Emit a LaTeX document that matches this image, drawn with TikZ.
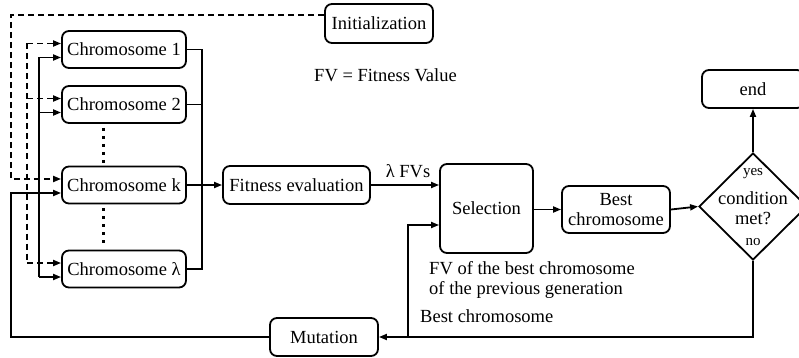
\documentclass[tikz,border=0pt]{standalone}
\usepackage{fontspec}
\setmainfont{Liberation Serif}
\newfontfamily\tmsfont{Liberation Serif}
\usetikzlibrary{arrows.meta,shapes.geometric,calc}
\begin{document}
\begin{tikzpicture}[x=1pt,y=-1pt,
  line width=1.8pt,
  txt/.style={font=\tmsfont\fontsize{18.5}{20.5}\selectfont},
  small/.style={font=\tmsfont\fontsize{15}{17}\selectfont},
  box/.style={draw,rounded corners=7pt,inner sep=0pt,txt,align=center},
  chrom/.style={box,minimum width=124pt,minimum height=37pt},
  arr/.style={-{Triangle[length=8pt,width=6pt]}},
  dsh/.style={dash pattern=on 6pt off 4pt},
  dots/.style={line width=3pt,dash pattern=on 3pt off 5pt},
]
\useasboundingbox (0,0) rectangle (799,358);
\clip (0,0) rectangle (799,358);

% boxes
\node[box,minimum width=108pt,minimum height=39pt] (init) at (379,23.5) {Initialization};
\node[chrom] (c1) at (124,49.5) {Chromosome 1};
\node[chrom] (c2) at (124,104.5) {Chromosome 2};
\node[chrom] (ck) at (124,185) {Chromosome k};
\node[chrom] (cl) at (124,269) {Chromosome λ};
\node[box,minimum width=147pt,minimum height=38pt] (fit) at (296.5,185) {Fitness evaluation};
\node[box,minimum width=93pt,minimum height=89pt] (sel) at (486.5,208.5) {Selection};
\node[box,minimum width=108pt,minimum height=47pt] (best) at (616,209.5) {Best\\chromosome};
\node[draw,diamond,minimum width=108pt,minimum height=107pt,inner sep=0pt] (cond) at (753,206.5) {};
\node[box,minimum width=102pt,minimum height=38pt] (end) at (753,89) {end};
\node[box,minimum width=108pt,minimum height=38pt] (mut) at (324,337) {Mutation};

% texts
\node[txt,anchor=west] (fvdef) at (310,75) {FV = Fitness Value};
\node[small] (yes) at (753,174) {yes};
\node[txt,align=center] (cm) at (753,208) {condition\\met?};
\node[small] (no) at (753,242) {no};
\node[txt] (lfv) at (408,171) {λ FVs};
\node[txt,align=left,anchor=north west] (prev) at (425,257) {FV of the best chromosome\\of the previous generation};
\node[txt,anchor=west] (bcl) at (416,316) {Best chromosome};

% ellipsis between chromosomes
\draw[dots] ($(c2.south)+(-21,4)$) -- ($(ck.north)+(-21,-2)$);
\draw[dots] ($(ck.south)+(-21,4)$) -- ($(cl.north)+(-21,-2)$);

% initialization (dashed)
\coordinate (i0) at ($(init.west)+(0,-8.5)$);
\draw[dsh,arr] (i0) -- (11,15) -- (11,179) -- ($(ck.west)+(0,-6)$);
\draw[dsh] (27,43.5) -- (27,263);
\draw[dsh,arr] (27,43.5) -- ($(c1.west)+(0,-6)$);
\draw[dsh,arr] (27,98.5) -- ($(c2.west)+(0,-6)$);
\draw[dsh,arr] (27,263) -- ($(cl.west)+(0,-6)$);

% mutation feedback (solid)
\draw[arr] (mut.west) -- (11,337) -- (11,193) -- ($(ck.west)+(0,8)$);
\draw (39,57.5) -- (39,277);
\draw[arr] (39,57.5) -- ($(c1.west)+(0,8)$);
\draw[arr] (39,112.5) -- ($(c2.west)+(0,8)$);
\draw[arr] (39,277) -- ($(cl.west)+(0,8)$);

% collector to fitness evaluation
\draw (c1.east) -- (202,49.5) -- (202,269) -- (cl.east);
\draw (c2.east) -- (202,104.5);
\draw[arr] (ck.east) -- (fit.west);

% main chain
\draw[arr] (fit.east) -- (sel.west |- fit.east);
\draw[arr] (sel.east |- best.west) -- (best.west);
\draw[arr] (best.east) -- (cond.west);
\draw[arr] (cond.north) -- (end.south);
\draw[arr] (cond.south) -- (753,337) -- (mut.east);
\draw[arr] (408,337) -- (408,225) -- (sel.west |- 0,225);
\end{tikzpicture}
\end{document}
